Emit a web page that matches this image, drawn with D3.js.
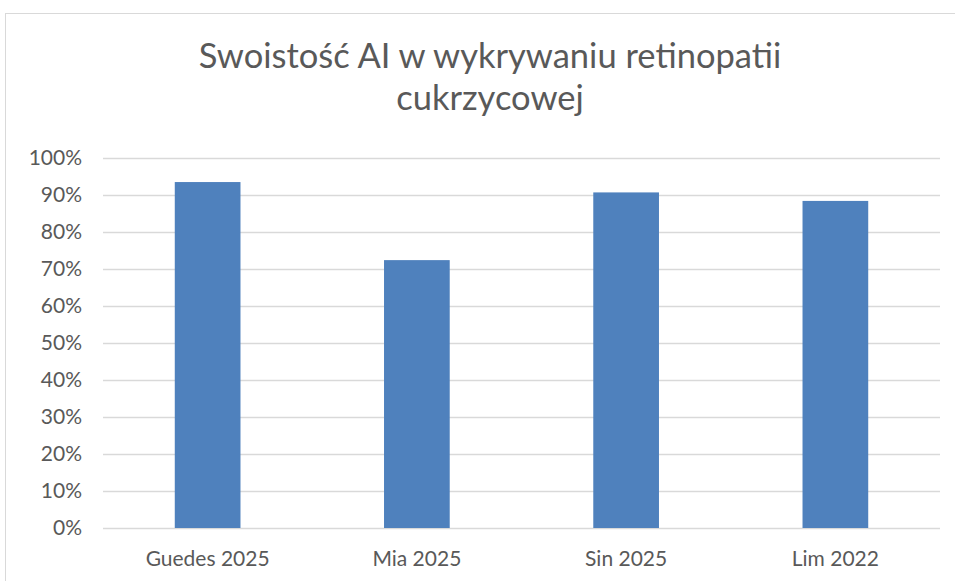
<!DOCTYPE html>
<html>
<head>
<meta charset="utf-8">
<script src="https://cdn.jsdelivr.net/npm/d3@7"></script>
<style>
  body { margin: 0; background: #fff; }
  text { font-family: Lato, "Open Sans", sans-serif; fill: #595959; }
</style>
</head>
<body>
<script>
// chart data
var categories = ["Guedes 2025", "Mia 2025", "Sin 2025", "Lim 2022"];
var values = [0.935, 0.724, 0.907, 0.884];
var yTicks = [0, 0.1, 0.2, 0.3, 0.4, 0.5, 0.6, 0.7, 0.8, 0.9, 1.0];
var titleLines = ["Swoistość AI w wykrywaniu retinopatii", "cukrzycowej"];

var w = 955, h = 581;
var margin = {top: 158, right: 15, bottom: 53, left: 103};

var svg = d3.select("body").append("svg")
    .attr("width", w)
    .attr("height", h);

// outer chart frame
svg.append("rect")
    .attr("x", 5.5).attr("y", 13.5)
    .attr("width", w + 10).attr("height", h + 10)
    .attr("fill", "none")
    .attr("stroke", "#d9d9d9")
    .attr("stroke-width", 1);

var x = d3.scaleBand()
    .domain(categories)
    .range([margin.left, w - margin.right])
    .paddingInner(0.686)
    .paddingOuter(0.343);

var y = d3.scaleLinear()
    .domain([0, 1])
    .range([h - margin.bottom, margin.top]);

// gridlines
svg.append("g")
    .selectAll("line")
    .data(yTicks)
    .enter()
    .append("line")
    .attr("x1", margin.left)
    .attr("x2", w - margin.right)
    .attr("y1", d => Math.round(y(d)) + 0.5)
    .attr("y2", d => Math.round(y(d)) + 0.5)
    .attr("stroke", "#d9d9d9")
    .attr("stroke-width", 1.5);

// bars
svg.append("g")
    .selectAll("rect")
    .data(values)
    .enter()
    .append("rect")
    .attr("x", (d, i) => x(categories[i]))
    .attr("width", x.bandwidth())
    .attr("y", d => y(d))
    .attr("height", d => y(0) - y(d))
    .attr("fill", "#4f81bd");

// y axis labels
var yAxis = d3.axisLeft(y)
    .tickValues(yTicks)
    .tickFormat(d3.format(".0%"))
    .tickSize(0)
    .tickPadding(21);

svg.append("g")
    .attr("transform", "translate(" + margin.left + ",0)")
    .call(yAxis)
    .call(g => g.select(".domain").remove())
    .selectAll("text")
    .attr("font-size", 21)
    .attr("font-family", "Lato, sans-serif")
    .attr("fill", "#595959");

// x axis labels
var xAxis = d3.axisBottom(x).tickSize(0).tickPadding(23);

svg.append("g")
    .attr("transform", "translate(0," + (h - margin.bottom) + ")")
    .call(xAxis)
    .call(g => g.select(".domain").remove())
    .selectAll("text")
    .attr("font-size", 21)
    .attr("font-family", "Lato, sans-serif")
    .attr("fill", "#595959");

// title
svg.append("g")
    .selectAll("text")
    .data(titleLines)
    .enter()
    .append("text")
    .attr("x", 490)
    .attr("y", (d, i) => 68 + i * 42)
    .attr("text-anchor", "middle")
    .attr("font-size", 34.5)
    .text(d => d);
</script>
</body>
</html>
